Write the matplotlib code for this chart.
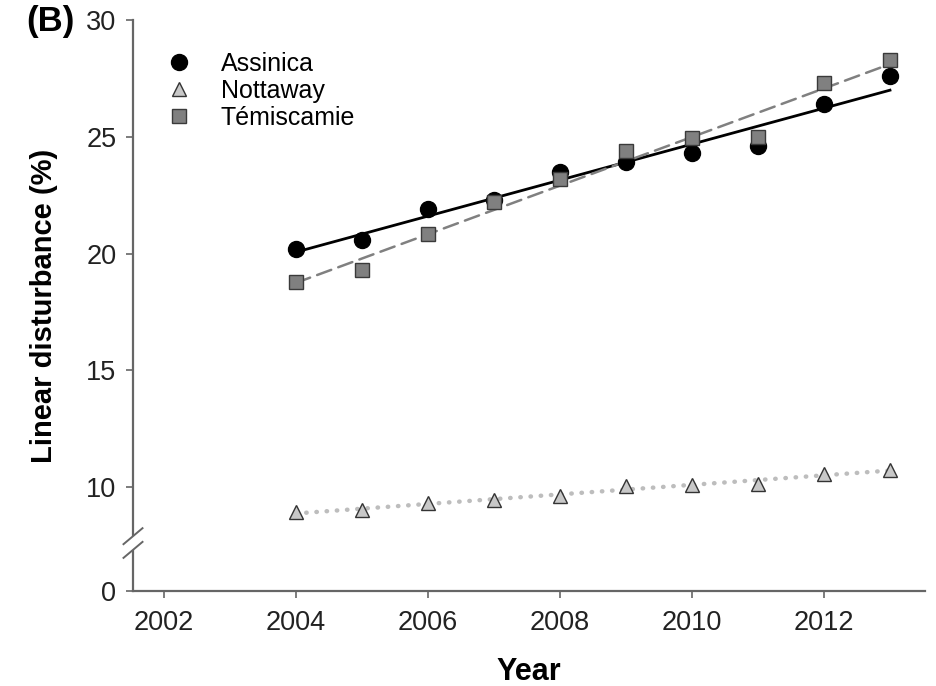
import numpy as np
import matplotlib.pyplot as plt

plt.rcParams['font.family'] = ['Liberation Sans', 'DejaVu Sans']

# Données
years = np.arange(2004, 2014)
assinica = [20.2, 20.6, 21.9, 22.3, 23.5, 23.9, 24.3, 24.6, 26.4, 27.6]
nottaway = [8.95, 9.0, 9.3, 9.45, 9.6, 10.05, 10.1, 10.15, 10.55, 10.75]
temiscamie = [18.8, 19.3, 20.85, 22.2, 23.2, 24.4, 24.95, 25.0, 27.3, 28.3]

x_ticks = [2002, 2004, 2006, 2008, 2010, 2012]
y_ticks = [10, 15, 20, 25, 30]
y_zero = 5.55  # position du 0 sous la coupure

axis_col = '#666666'

fig = plt.figure(figsize=(9.36, 6.86), dpi=100)
ax = fig.add_axes([0.1421, 0.1385, 0.8461, 0.8323])

# Droites de régression
xx = np.array([2004, 2013])
for vals, style, col, lw in [(assinica, '-', 'black', 2.0),
                             (temiscamie, (0, (6, 3)), '#808080', 1.8),
                             (nottaway, (0, (0.1, 2.2)), '#bdbdbd', 3.2)]:
    a, b = np.polyfit(years, vals, 1)
    ax.plot(xx, a * xx + b, linestyle=style, color=col, lw=lw,
            dash_capstyle='round', zorder=2)

ax.plot(years, assinica, 'o', color='black', ms=11.5, label='Assinica', zorder=3)
ax.plot(years, nottaway, '^', mfc='#c8c8c8', mec='#333333', mew=1.0, ms=10,
        label='Nottaway', zorder=3)
ax.plot(years, temiscamie, 's', mfc='#808080', mec='#3a3a3a', mew=1.0, ms=10.5,
        label='Témiscamie', zorder=4)

ax.set_xlim(2001.53, 2013.53)
ax.set_ylim(y_zero, 30)
ax.set_xticks(x_ticks)
ax.set_yticks([y_zero] + y_ticks)
ax.set_yticklabels(['0'] + [str(v) for v in y_ticks])

for s in ['top', 'right']:
    ax.spines[s].set_visible(False)
for s in ['left', 'bottom']:
    ax.spines[s].set_color(axis_col)
    ax.spines[s].set_linewidth(1.6)
ax.tick_params(axis='both', direction='out', length=5, width=1.2, color=axis_col,
               labelsize=19.5, labelcolor='#222222')
ax.tick_params(axis='x', pad=9)
ax.tick_params(axis='y', pad=7)

# Coupure de l'axe y
trans = ax.transAxes
ax.add_patch(plt.Rectangle((-0.006, 0.072), 0.012, 0.024, transform=trans,
                           facecolor='white', edgecolor='none', clip_on=False, zorder=5))
for dy in [0.072, 0.096]:
    ax.plot([-0.012, 0.012], [dy - 0.014, dy + 0.014], transform=trans,
            color=axis_col, lw=1.4, clip_on=False, zorder=6)

ax.set_xlabel('Year', fontsize=22, fontweight='bold', labelpad=15)
ax.set_ylabel('Linear disturbance (%)', fontsize=21, fontweight='bold', labelpad=20)
fig.text(0.028, 0.968, '(B)', fontsize=25, fontweight='bold', va='center')

leg = ax.legend(loc='upper left', bbox_to_anchor=(0.03, 0.962), frameon=False,
                fontsize=18, handletextpad=1.15, labelspacing=0.13,
                handlelength=1.0, borderaxespad=0)

fig.savefig('out.png', dpi=100)
